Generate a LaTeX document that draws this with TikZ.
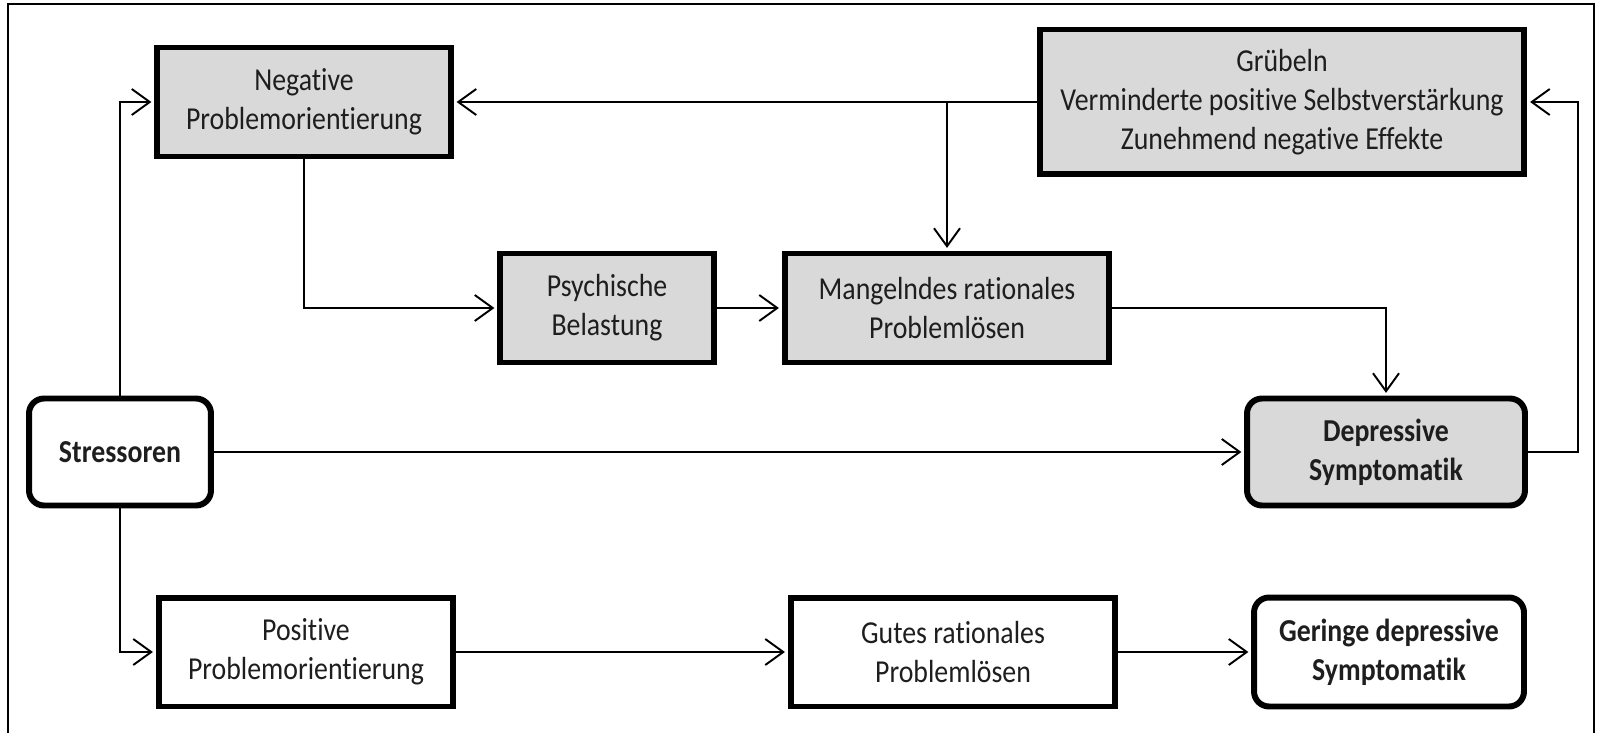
\documentclass[tikz,border=0pt]{standalone}
\usepackage{fontspec}
\setmainfont{Carlito}[FakeStretch=0.87, Ligatures=NoCommon]
\usepackage{xcolor}
\usetikzlibrary{arrows.meta}
\definecolor{boxgray}{RGB}{217, 217, 217}
\definecolor{textdark}{RGB}{30, 30, 30}

\begin{document}
\begin{tikzpicture}[
        x=0.02cm, y=-0.02cm,
        every node/.style={align=center, text=textdark, inner sep=0pt,
            font=\fontsize{18.2}{22.2}\selectfont},
        box/.style={draw, line width=3.4pt, minimum height=2.18cm},
        graybox/.style={box, fill=boxgray},
        roundbox/.style={box, rounded corners=0.3cm, font=\fontsize{18.2}{22.2}\selectfont\bfseries},
        arr/.style={-{Straight Barb[length=0.36cm, width=0.52cm]}, line width=1.1pt, shorten >=1.5pt}
    ]
        \useasboundingbox (0,0) rectangle (1602,733);
        % Frame
        \draw[line width=1.1pt] (8,740) -- (8,4) -- (1594,4) -- (1594,740);

        % Upper path
        \node[graybox, minimum width=5.88cm] (neg) at (304,102) {Negative\\Problemorientierung};
        \node[graybox, minimum width=9.7cm, minimum height=2.9cm] (grub) at (1282,102) {Grübeln\\Verminderte positive Selbstverstärkung\\Zunehmend negative Effekte};
        \node[graybox, minimum width=4.28cm] (psych) at (607,308) {Psychische\\Belastung};
        \node[graybox, minimum width=6.5cm] (mang) at (947,308) {Mangelndes rationales\\Problemlösen};

        % Middle row
        \node[roundbox, minimum width=3.64cm, minimum height=2.14cm] (stress) at (120,452) {Stressoren};
        \node[roundbox, fill=boxgray, minimum width=5.56cm, minimum height=2.14cm] (depr) at (1386,452) {Depressive\\Symptomatik};

        % Lower path
        \node[box, minimum width=5.9cm] (pos) at (306,652) {Positive\\Problemorientierung};
        \node[box, minimum width=6.5cm] (gut) at (953,652) {Gutes rationales\\Problemlösen};
        \node[roundbox, minimum width=5.4cm] (ger) at (1389,652) {Geringe depressive\\Symptomatik};

        \coordinate (branch) at (mang.north |- grub.west);
        \coordinate (back) at (1578,452);

        % Arrows
        \draw[arr] (stress.north) |- (neg.west);
        \draw[arr] (stress.south) |- (pos.west);
        \draw[arr] (stress.east) -- (depr.west);

        \draw[arr] (neg.south) |- (psych.west);
        \draw[arr] (psych.east) -- (mang.west);
        \draw[arr] (mang.east) -| (depr.north);

        \draw[arr] (grub.west) -- (neg.east);
        \draw[arr] (branch) -- (mang.north);
        \draw[arr] (depr.east) -- (back) |- (grub.east);

        \draw[arr] (pos.east) -- (gut.west);
        \draw[arr] (gut.east) -- (ger.west);
    \end{tikzpicture}
\end{document}
